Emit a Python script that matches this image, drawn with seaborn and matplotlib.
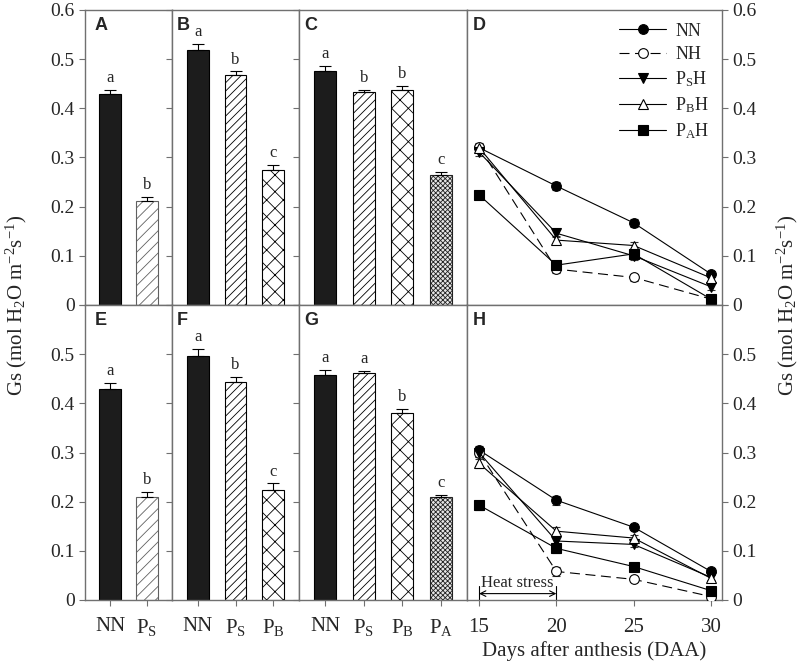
import numpy as np
import pandas as pd
import matplotlib
matplotlib.use("Agg")
import matplotlib.pyplot as plt
import matplotlib.transforms as mtransforms
import seaborn as sns

sns.set_style("ticks")
plt.rcParams['font.family'] = ['Liberation Serif', 'DejaVu Serif']
plt.rcParams['mathtext.fontset'] = 'custom'
plt.rcParams['mathtext.rm'] = 'Liberation Serif'
plt.rcParams['mathtext.it'] = 'Liberation Serif:italic'
plt.rcParams['hatch.linewidth'] = 0.6

# ---- bar panel data (A-C top, E-G bottom) ----
cats_2 = ['NN', 'PS']
cats_3 = ['NN', 'PS', 'PB']
cats_4 = ['NN', 'PS', 'PB', 'PA']

A_vals = [0.429, 0.211]
A_err = [0.008, 0.008]
A_sig = ['a', 'b']
B_vals = [0.519, 0.468, 0.274]
B_err = [0.011, 0.007, 0.010]
B_sig = ['a', 'b', 'c']
C_vals = [0.476, 0.433, 0.437, 0.264]
C_err = [0.010, 0.005, 0.009, 0.006]
C_sig = ['a', 'b', 'b', 'c']

E_vals = [0.429, 0.210]
E_err = [0.013, 0.009]
E_sig = ['a', 'b']
F_vals = [0.497, 0.444, 0.224]
F_err = [0.013, 0.010, 0.013]
F_sig = ['a', 'b', 'c']
G_vals = [0.458, 0.461, 0.381, 0.209]
G_err = [0.010, 0.005, 0.007, 0.005]
G_sig = ['a', 'a', 'b', 'c']

# ---- time course data (D top, H bottom) ----
days = [15, 20, 25, 30]
series = ['NN', 'NH', 'PSH', 'PBH', 'PAH']
D_NN = [0.320, 0.242, 0.167, 0.063]
D_NH = [0.322, 0.073, 0.056, 0.012]
D_PSH = [0.311, 0.146, 0.100, 0.037]
D_PBH = [0.320, 0.132, 0.121, 0.055]
D_PAH = [0.224, 0.081, 0.104, 0.012]
D_err = [0.008, 0.008, 0.008, 0.007]

H_NN = [0.305, 0.203, 0.148, 0.058]
H_NH = [0.300, 0.058, 0.042, 0.007]
H_PSH = [0.300, 0.120, 0.113, 0.046]
H_PBH = [0.278, 0.140, 0.126, 0.044]
H_PAH = [0.193, 0.105, 0.068, 0.019]
H_err = [0.009, 0.009, 0.006, 0.006]

tick_names = {'NN': 'NN', 'PS': r'P$_\mathregular{S}$', 'PB': r'P$_\mathregular{B}$',
              'PA': r'P$_\mathregular{A}$'}
legend_names = {'NN': 'NN', 'NH': 'NH', 'PSH': r'P$_\mathregular{S}$H',
                'PBH': r'P$_\mathregular{B}$H', 'PAH': r'P$_\mathregular{A}$H'}
bar_style = {
    'NN': dict(facecolor='#1c1c1c', edgecolor='black', hatch=None),
    'PS': dict(facecolor='white', edgecolor='black', hatch='////'),
    'PB': dict(facecolor='white', edgecolor='black', hatch='xx'),
    'PA': dict(facecolor='#e6e6e6', edgecolor='#222222', hatch='xxxxxxx'),
}
line_style = {
    'NN': dict(marker='o', mfc='black', ls='-'),
    'NH': dict(marker='o', mfc='white', ls=(0, (9, 5))),
    'PSH': dict(marker='v', mfc='black', ls='-'),
    'PBH': dict(marker='^', mfc='white', ls='-'),
    'PAH': dict(marker='s', mfc='black', ls='-'),
}
spine_col = '#707070'

fig = plt.figure(figsize=(8, 6.64), dpi=100)
xs = [85, 172, 299, 467, 722]
row_bottoms = [305, 600]
h = 295 / 664


def make_ax(i, row):
    left = xs[i] / 800
    w = (xs[i + 1] - xs[i]) / 800
    b = 1 - row_bottoms[row] / 664
    ax = fig.add_axes([left, b, w, h])
    for s in ax.spines.values():
        s.set_color(spine_col)
        s.set_linewidth(1.0)
    return ax


def panel_letter(ax, letter, dx_px):
    tr = ax.transAxes + mtransforms.ScaledTranslation(dx_px / 100, -7 / 100,
                                                       fig.dpi_scale_trans)
    ax.text(0, 1, letter, transform=tr, ha='left', va='top', fontsize=13,
            fontweight='bold', family='Liberation Sans')


def bar_panel(ax, cats, vals, errs, sig, letter, row, first, light_ps=False):
    df = pd.DataFrame({'cat': cats, 'val': vals})
    sns.barplot(data=df, x='cat', y='val', order=cats, ax=ax, width=0.58,
                color='white', errorbar=None, saturation=1)
    for p, c in zip(ax.patches, cats):
        st = dict(bar_style[c])
        if light_ps and c == 'PS':
            st = dict(facecolor='white', edgecolor='#606060', hatch='///')
        p.set_facecolor(st['facecolor'])
        p.set_edgecolor(st['edgecolor'])
        p.set_hatch(st['hatch'])
        p.set_linewidth(0.8)
    x = np.arange(len(cats))
    ax.errorbar(x, vals, yerr=[np.zeros(len(vals)), errs], fmt='none',
                ecolor='black', elinewidth=0.8, capsize=4, capthick=0.8)
    for xi, v, e, s in zip(x, vals, errs, sig):
        ax.text(xi, v + e + 0.008, s, ha='center', va='bottom', fontsize=12)
    ax.set_xlim(-0.68, len(cats) - 0.32)
    ax.set_ylim(0, 0.6)
    ax.set_yticks(np.arange(0, 0.61, 0.1))
    ax.set_xlabel('')
    ax.set_ylabel('')
    if first:
        labs = ['0', '0.1', '0.2', '0.3', '0.4', '0.5', '0.6' if row == 0 else '']
        ax.set_yticklabels(labs, fontsize=14)
    else:
        ax.set_yticklabels([])
    ax.tick_params(axis='y', direction='out', length=4, color=spine_col, width=0.8)
    if row == 0:
        ax.set_xticks([])
    else:
        ax.set_xticks(x)
        ax.set_xticklabels([tick_names[c] for c in cats], fontsize=15)
        ax.tick_params(axis='x', direction='out', length=4, color=spine_col,
                       width=0.8, pad=8)
    panel_letter(ax, letter, 10 if first else 5)


def line_panel(ax, data, errs, letter, row):
    for name, vals in zip(series, data):
        st = line_style[name]
        ax.errorbar(days, vals, yerr=errs, fmt='none', ecolor='#333333',
                    elinewidth=0.8, capsize=3, capthick=0.8, zorder=2)
        sns.lineplot(x=days, y=vals, ax=ax, color='black', lw=0.8,
                     linestyle=st['ls'], marker=st['marker'],
                     markerfacecolor=st['mfc'], markeredgecolor='black',
                     markeredgewidth=0.8, markersize=7,
                     label=legend_names[name], zorder=3)
    ax.set_xlim(14.22, 30.71)
    ax.set_ylim(0, 0.6)
    ax.set_yticks(np.arange(0, 0.61, 0.1))
    labs = ['0', '0.1', '0.2', '0.3', '0.4', '0.5', '0.6' if row == 0 else '']
    ax.yaxis.tick_right()
    ax.set_yticklabels(labs, fontsize=14)
    ax.tick_params(axis='y', direction='out', length=4, color=spine_col, width=0.8)
    ax.set_xlabel('')
    ax.set_ylabel('')
    panel_letter(ax, letter, 6)
    if row == 0:
        ax.set_xticks([])
        ax.legend(loc='upper right', frameon=False, fontsize=13, handlelength=2.6,
                  labelspacing=0.35, borderaxespad=0.3, handletextpad=0.5)
    else:
        if ax.get_legend():
            ax.get_legend().remove()
        ax.set_xticks(days)
        ax.set_xticklabels([str(d) for d in days], fontsize=15)
        ax.tick_params(axis='x', direction='out', length=4, color=spine_col,
                       width=0.8, pad=9)
        ax.set_xlabel('Days after anthesis (DAA)', fontsize=15, labelpad=3)
        ax.annotate('', xy=(15, 0.013), xytext=(20, 0.013),
                    arrowprops=dict(arrowstyle='<->', lw=0.8, color='black',
                                    shrinkA=0, shrinkB=0))
        ax.plot([15, 15], [0, 0.028], color='black', lw=0.8)
        ax.plot([20, 20], [0, 0.028], color='black', lw=0.8)
        ax.text(17.5, 0.019, 'Heat stress', ha='center', va='bottom', fontsize=12)


axA = make_ax(0, 0)
bar_panel(axA, cats_2, A_vals, A_err, A_sig, 'A', 0, True, light_ps=True)
axB = make_ax(1, 0)
bar_panel(axB, cats_3, B_vals, B_err, B_sig, 'B', 0, False)
axC = make_ax(2, 0)
bar_panel(axC, cats_4, C_vals, C_err, C_sig, 'C', 0, False)
axD = make_ax(3, 0)
line_panel(axD, [D_NN, D_NH, D_PSH, D_PBH, D_PAH], D_err, 'D', 0)

axE = make_ax(0, 1)
bar_panel(axE, cats_2, E_vals, E_err, E_sig, 'E', 1, True, light_ps=True)
axF = make_ax(1, 1)
bar_panel(axF, cats_3, F_vals, F_err, F_sig, 'F', 1, False)
axG = make_ax(2, 1)
bar_panel(axG, cats_4, G_vals, G_err, G_sig, 'G', 1, False)
axH = make_ax(3, 1)
line_panel(axH, [H_NN, H_NH, H_PSH, H_PBH, H_PAH], H_err, 'H', 1)

ylab = r'Gs (mol H$_\mathregular{2}$O m$^\mathregular{-2}$s$^\mathregular{-1}$)'
fig.text(0.021, 1 - 305 / 664, ylab, rotation=90, ha='center', va='center', fontsize=15)
fig.text(0.984, 1 - 305 / 664, ylab, rotation=90, ha='center', va='center', fontsize=15)

fig.savefig('out.png', dpi=100)
